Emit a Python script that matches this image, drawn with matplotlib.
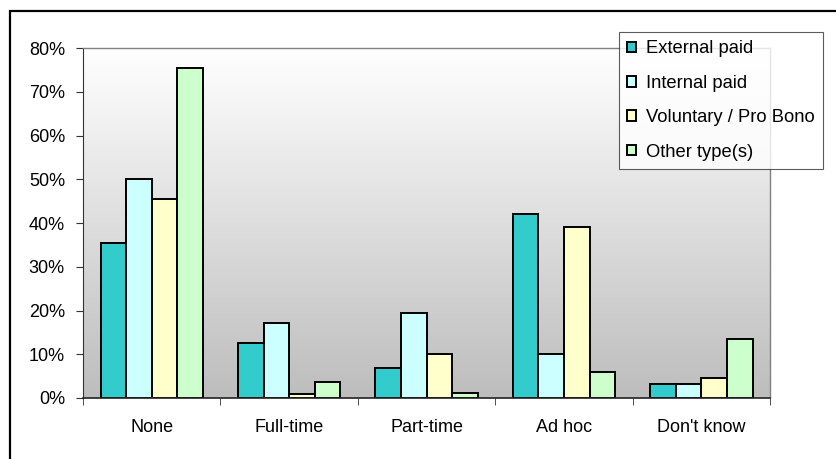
import numpy as np
import matplotlib
matplotlib.use("Agg")
import matplotlib.pyplot as plt
from matplotlib.patches import Rectangle
from matplotlib.ticker import FuncFormatter

plt.rcParams['font.family'] = ['Liberation Sans', 'DejaVu Sans']

# data (percent)
categories = ["None", "Full-time", "Part-time", "Ad hoc", "Don't know"]
series_names = ["External paid", "Internal paid", "Voluntary / Pro Bono", "Other type(s)"]
external_paid = [35.4, 12.5, 6.8, 42.1, 3.3]
internal_paid = [50.0, 17.2, 19.4, 10.1, 3.3]
voluntary = [45.4, 0.8, 10.1, 39.2, 4.5]
other_type = [75.4, 3.7, 1.2, 5.9, 13.4]
colors = ["#33CCCC", "#CCFFFF", "#FFFFCC", "#CCFFCC"]

series = [external_paid, internal_paid, voluntary, other_type]

fig = plt.figure(figsize=(8.36, 4.59), dpi=100)
ax = fig.add_axes([0.0993, 0.133, 0.822, 0.762])

# outer chart frame (runs off the right and bottom edge)
fig.patches.append(Rectangle((10 / 836, -0.05), 1.1, 1 - 11 / 459 + 0.05,
                             transform=fig.transFigure, fill=False,
                             edgecolor="black", linewidth=1.6, zorder=0))

# grey gradient background of the plot area
grad = np.linspace(1.0, 0.0, 256).reshape(-1, 1)
ax.imshow(grad, extent=[0, 1, 0, 1], transform=ax.transAxes, aspect="auto",
          cmap=matplotlib.colors.LinearSegmentedColormap.from_list("g", ["#bdbdbd", "#ffffff"]),
          zorder=0)

x = np.arange(len(categories))
w = 0.186
for i, (vals, name, c) in enumerate(zip(series, series_names, colors)):
    ax.bar(x + (i - 1.5) * w, vals, width=w, color=c, edgecolor="black",
           linewidth=1.4, label=name, zorder=2)

ax.set_xlim(-0.5, len(categories) - 0.5)
ax.set_ylim(0, 80)
ax.set_yticks(np.arange(0, 81, 10))
ax.yaxis.set_major_formatter(FuncFormatter(lambda v, p: "%d%%" % v))
ax.set_xticks(x)
ax.set_xticklabels(categories)
ax.set_xticks(np.arange(-0.5, len(categories)), minor=True)
ax.tick_params(axis="x", which="major", length=0, pad=15, labelsize=13)
ax.tick_params(axis="x", which="minor", length=5, direction="out", color="#333333")
ax.tick_params(axis="y", length=5, direction="out", pad=8, labelsize=13, color="#333333")

for s in ["top", "right"]:
    ax.spines[s].set_color("#808080")
    ax.spines[s].set_linewidth(1.0)
ax.spines["left"].set_color("#333333")
ax.spines["bottom"].set_color("#222222")
ax.spines["bottom"].set_linewidth(1.2)

leg = fig.legend(loc="upper right", bbox_to_anchor=(0.984, 0.93), fontsize=13.2,
                 frameon=True, fancybox=False, edgecolor="#333333",
                 handlelength=0.5, handleheight=0.5, handletextpad=0.5,
                 labelspacing=0.95, borderpad=0.45, borderaxespad=0)
leg.get_frame().set_linewidth(0.8)
leg.set_zorder(5)

fig.savefig("out.png", dpi=100)
